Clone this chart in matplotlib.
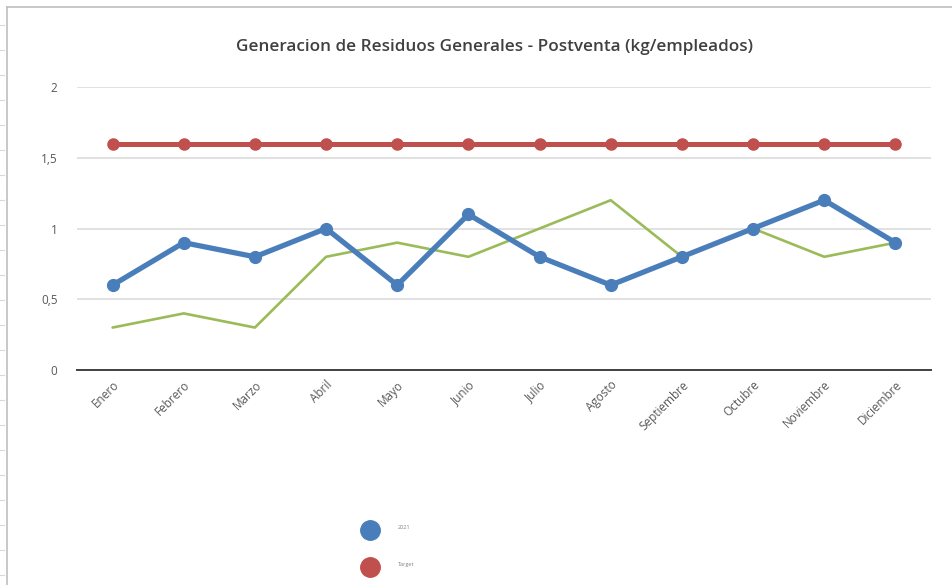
import matplotlib
matplotlib.use("Agg")
import matplotlib.pyplot as plt
from matplotlib.lines import Line2D

months = ["Enero", "Febrero", "Marzo", "Abril", "Mayo", "Junio", "Julio",
          "Agosto", "Septiembre", "Octubre", "Noviembre", "Diciembre"]
serie_2021 = [0.6, 0.9, 0.8, 1.0, 0.6, 1.1, 0.8, 0.6, 0.8, 1.0, 1.2, 0.9]
serie_green = [0.3, 0.4, 0.3, 0.8, 0.9, 0.8, 1.0, 1.2, 0.8, 1.0, 0.8, 0.9]
target = [1.6] * 12
yticks = [0, 0.5, 1, 1.5, 2]
ytick_labels = ["0", "0,5", "1", "1,5", "2"]

BLUE = "#4a7ebb"
RED = "#c0504d"
GREEN = "#9bbb59"

plt.rcParams['font.family'] = ['Open Sans', 'DejaVu Sans']

W, H = 953, 585
fig = plt.figure(figsize=(W / 100, H / 100), dpi=100)
ax = fig.add_axes([77 / W, 1 - 370 / H, (931 - 77) / W, (370 - 87) / H])

x = list(range(len(months)))
ax.plot(x, serie_green, color=GREEN, lw=1.9, zorder=3, solid_capstyle='round')
ax.plot(x, serie_2021, color=BLUE, lw=3.8, marker='o', markersize=8.5, zorder=4,
        solid_joinstyle='round', clip_on=False)
ax.plot(x, target, color=RED, lw=3.6, marker='o', markersize=8, zorder=5, clip_on=False)

ax.set_xlim(-0.5, 11.5)
ax.set_ylim(0, 2)
ax.set_yticks(yticks)
ax.set_yticklabels(ytick_labels)
ax.set_xticks(x)
ax.set_xticklabels(months, rotation=45, ha='right', rotation_mode='anchor')
ax.tick_params(axis='both', length=0, colors='#595959', labelsize=8.5)
ax.tick_params(axis='y', pad=14)
ax.tick_params(axis='x', pad=6)

ax.grid(axis='y', color='#d9d9d9', lw=1.1)
ax.set_axisbelow(True)
for s in ['top', 'right', 'left']:
    ax.spines[s].set_visible(False)
ax.spines['bottom'].set_color('#404040')
ax.spines['bottom'].set_linewidth(1.4)

fig.text(495 / W, 1 - 47 / H, "Generacion de Residuos Generales - Postventa (kg/empleados)",
         ha='center', va='center', fontsize=12.3, fontweight='semibold', color='#404040')

# outer border lines
fig.add_artist(Line2D([7 / W, 7 / W], [0, 1 - 7 / H], transform=fig.transFigure,
                      color='#bfbfbf', lw=1.2))
fig.add_artist(Line2D([7 / W, 1], [1 - 7 / H, 1 - 7 / H], transform=fig.transFigure,
                      color='#bfbfbf', lw=1.2))
for yy in range(25, 585, 25):
    fig.add_artist(Line2D([0, 4 / W], [1 - yy / H, 1 - yy / H], transform=fig.transFigure,
                          color='#d9d9d9', lw=0.8))

handles = [Line2D([], [], ls='none', marker='o', color=BLUE, markersize=14),
           Line2D([], [], ls='none', marker='o', color=RED, markersize=14)]
leg = fig.legend(handles, ["2021", "Target"], loc='upper left',
                 bbox_to_anchor=(359 / W, 1 - 526 / H), bbox_transform=fig.transFigure,
                 frameon=False, fontsize=4, handlelength=4, handleheight=3,
                 handletextpad=3, labelspacing=4.55, borderpad=0, borderaxespad=0,
                 labelcolor='#808080')
for t in leg.get_texts():
    t.set_y(5)

fig.savefig("out.png", dpi=100)
